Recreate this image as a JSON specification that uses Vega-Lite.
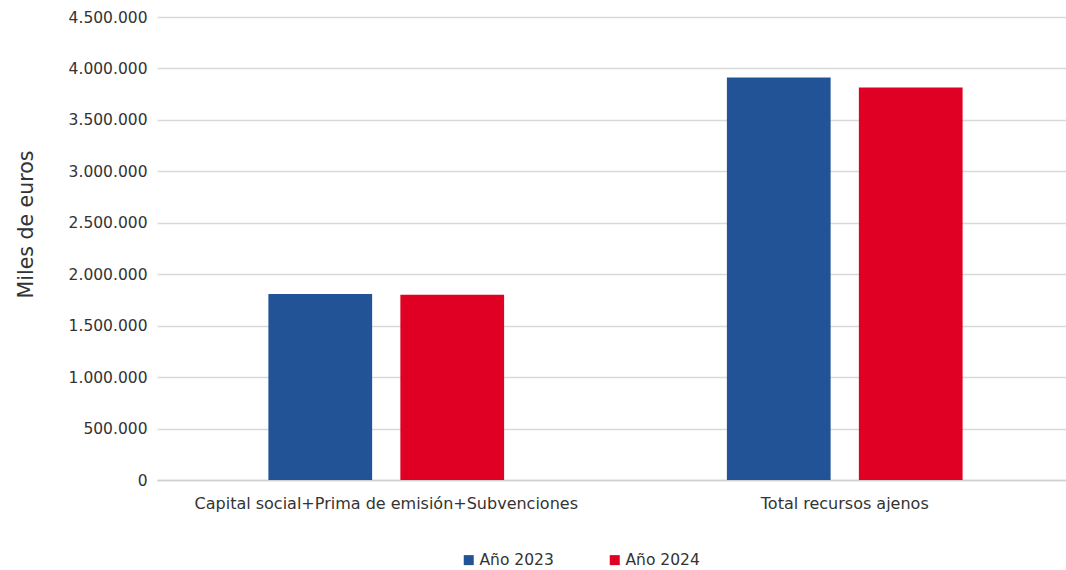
{
  "$schema": "https://vega.github.io/schema/vega-lite/v6.json",
  "autosize": {"type": "none"},
  "padding": {"left": 157, "top": 17, "right": -8, "bottom": 90},
  "width": 917,
  "height": 463,
  "config": {
    "font": "DejaVu Sans",
    "view": {"stroke": null},
    "locale": {"number": {"decimal": ",", "thousands": ".", "grouping": [3], "currency": ["", " €"]}}
  },
  "data": {
    "values": [
      {"categoria": "Capital social+Prima de emisión+Subvenciones", "serie": "Año 2023", "valor": 1808000},
      {"categoria": "Capital social+Prima de emisión+Subvenciones", "serie": "Año 2024", "valor": 1800000},
      {"categoria": "Total recursos ajenos", "serie": "Año 2023", "valor": 3912000},
      {"categoria": "Total recursos ajenos", "serie": "Año 2024", "valor": 3815000}
    ]
  },
  "mark": {"type": "bar"},
  "encoding": {
    "x": {
      "field": "categoria", "type": "nominal", "sort": null,
      "scale": {"paddingInner": 0, "paddingOuter": 0},
      "axis": {"title": null, "labelAngle": 0, "ticks": false, "domainColor": "#d0d0d0", "domainWidth": 1.5, "labelPadding": 15, "labelDx": -7, "labelFontSize": 16, "labelColor": "#333333", "labelLimit": 500}
    },
    "xOffset": {"field": "serie", "type": "nominal", "scale": {"paddingInner": 0.214, "paddingOuter": 0.844}},
    "y": {
      "field": "valor", "type": "quantitative",
      "scale": {"domain": [0, 4500000]},
      "axis": {"title": "Miles de euros", "titleFontSize": 20.5, "titleFontWeight": "normal", "titleColor": "#333333", "titleX": -125, "titleY": 207, "titleAngle": -90, "titleBaseline": "alphabetic", "titleAlign": "center", "format": ",.0f", "values": [0,500000,1000000,1500000,2000000,2500000,3000000,3500000,4000000,4500000], "labelOverlap": false, "domain": false, "ticks": false, "labelPadding": 10, "labelFontSize": 15.5, "labelColor": "#333333", "gridColor": "#d9d9d9", "gridWidth": 1.5}
    },
    "color": {
      "field": "serie", "type": "nominal",
      "scale": {"domain": ["Año 2023", "Año 2024"], "range": ["#225397", "#e00024"]},
      "legend": {"title": null, "orient": "none", "legendX": 304, "legendY": 535, "direction": "horizontal", "symbolType": "square", "symbolSize": 100, "symbolStrokeWidth": 0, "labelFontSize": 15.5, "labelColor": "#333333", "labelOffset": 3, "columnPadding": 53}
    }
  }
}
